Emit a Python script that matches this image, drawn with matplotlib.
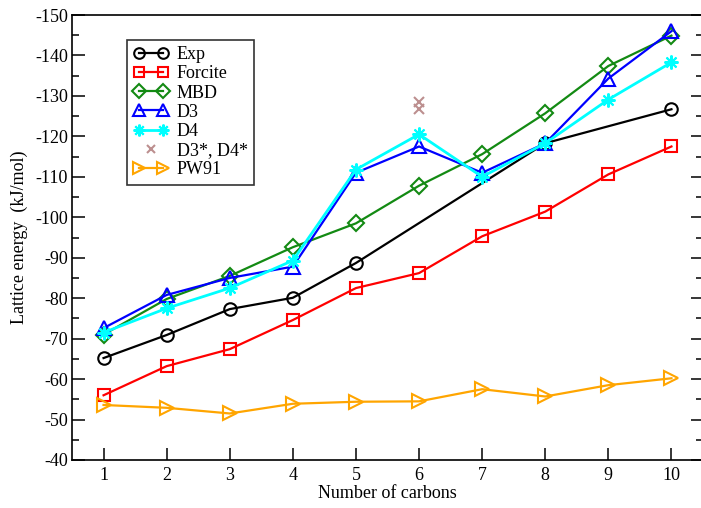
import matplotlib
matplotlib.use("Agg")
import matplotlib.pyplot as plt
from matplotlib.legend_handler import HandlerLine2D
from matplotlib.ticker import MultipleLocator

plt.rcParams['font.family'] = ['Liberation Serif', 'DejaVu Serif']
plt.rcParams['axes.unicode_minus'] = False

carbons = [1, 2, 3, 4, 5, 6, 7, 8, 9, 10]
exp_x = [1, 2, 3, 4, 5, 8, 10]
exp = [-65.2, -70.9, -77.3, -80.1, -88.7, -118.3, -126.7]
forcite = [-56.0, -63.2, -67.4, -74.6, -82.5, -86.2, -95.3, -101.4, -110.6, -117.5]
mbd = [-71.0, -79.8, -85.5, -92.6, -98.5, -107.8, -115.6, -125.7, -137.4, -144.9]
d3 = [-72.6, -80.8, -85.0, -87.8, -111.0, -117.5, -111.0, -118.3, -134.3, -146.0]
d4 = [-71.5, -77.5, -82.5, -89.3, -111.8, -120.5, -110.0, -118.3, -129.1, -138.3]
star_x = [6, 6]
star = [-128.6, -126.7]
pw91 = [-53.6, -52.9, -51.5, -53.9, -54.4, -54.5, -57.5, -55.7, -58.5, -60.2]

fig = plt.figure(figsize=(7.01, 5.08), dpi=100)
ax = fig.add_axes([72/701, 1 - 460/508, 631/701, 445/508])

ms = 9
mew = 1.5
lw = 1.6
ax.plot(exp_x, exp, color='black', marker='o', ms=ms, mew=mew, lw=lw, mfc='none', label='Exp', zorder=3)
ax.plot(carbons, forcite, color='#ff0000', marker='s', ms=ms, mew=mew, lw=lw, mfc='none', label='Forcite', zorder=3)
ax.plot(carbons, mbd, color='#138a13', marker='D', ms=8, mew=mew, lw=lw, mfc='none', label='MBD', zorder=3)
ax.plot(carbons, d3, color='#0000ff', marker='^', ms=ms + 1, mew=mew, lw=lw, mfc='none', label='D3', zorder=4)
ax.plot(carbons, d4, color='#00ffff', marker=(8, 2, 0), ms=ms + 1, mew=mew, lw=2.0, mfc='none', label='D4', zorder=4)
star_line, = ax.plot(star_x, star, color='#bc8f8f', marker='x', ms=7, mew=mew, lw=0, label='D3*, D4*', zorder=3)
ax.plot(carbons, pw91, color='#ffa500', marker='>', ms=ms + 1, mew=mew, lw=lw, mfc='none', label='PW91', zorder=3)

ax.set_xlim(0.5, 10.5)
ax.set_ylim(-40, -150)
ax.set_xticks(carbons)
ax.yaxis.set_major_locator(MultipleLocator(10))
ax.yaxis.set_minor_locator(MultipleLocator(5))
ax.tick_params(axis='both', which='major', direction='in', length=9, width=1.1, labelsize=13)
ax.tick_params(axis='y', which='both', right=True)
ax.tick_params(axis='y', which='minor', direction='in', length=5, width=1.1)
ax.tick_params(axis='x', which='major', pad=5)
ax.tick_params(axis='y', which='major', pad=3)
for s in ax.spines.values():
    s.set_linewidth(1.2)

ax.set_xlabel('Number of carbons', fontsize=13, labelpad=1)
ax.set_ylabel('Lattice energy  (kJ/mol)', fontsize=13, labelpad=5)

leg = ax.legend(loc='upper left', bbox_to_anchor=(0.087, 0.944), fontsize=13,
                numpoints=2, handlelength=1.95, handletextpad=0.45, labelspacing=0.12,
                borderpad=0.35, borderaxespad=0, fancybox=False, framealpha=1,
                edgecolor='#333333', markerscale=0.85,
                handler_map={star_line: HandlerLine2D(numpoints=1)})
leg.get_frame().set_linewidth(1.2)

fig.savefig('out.png', dpi=100)
